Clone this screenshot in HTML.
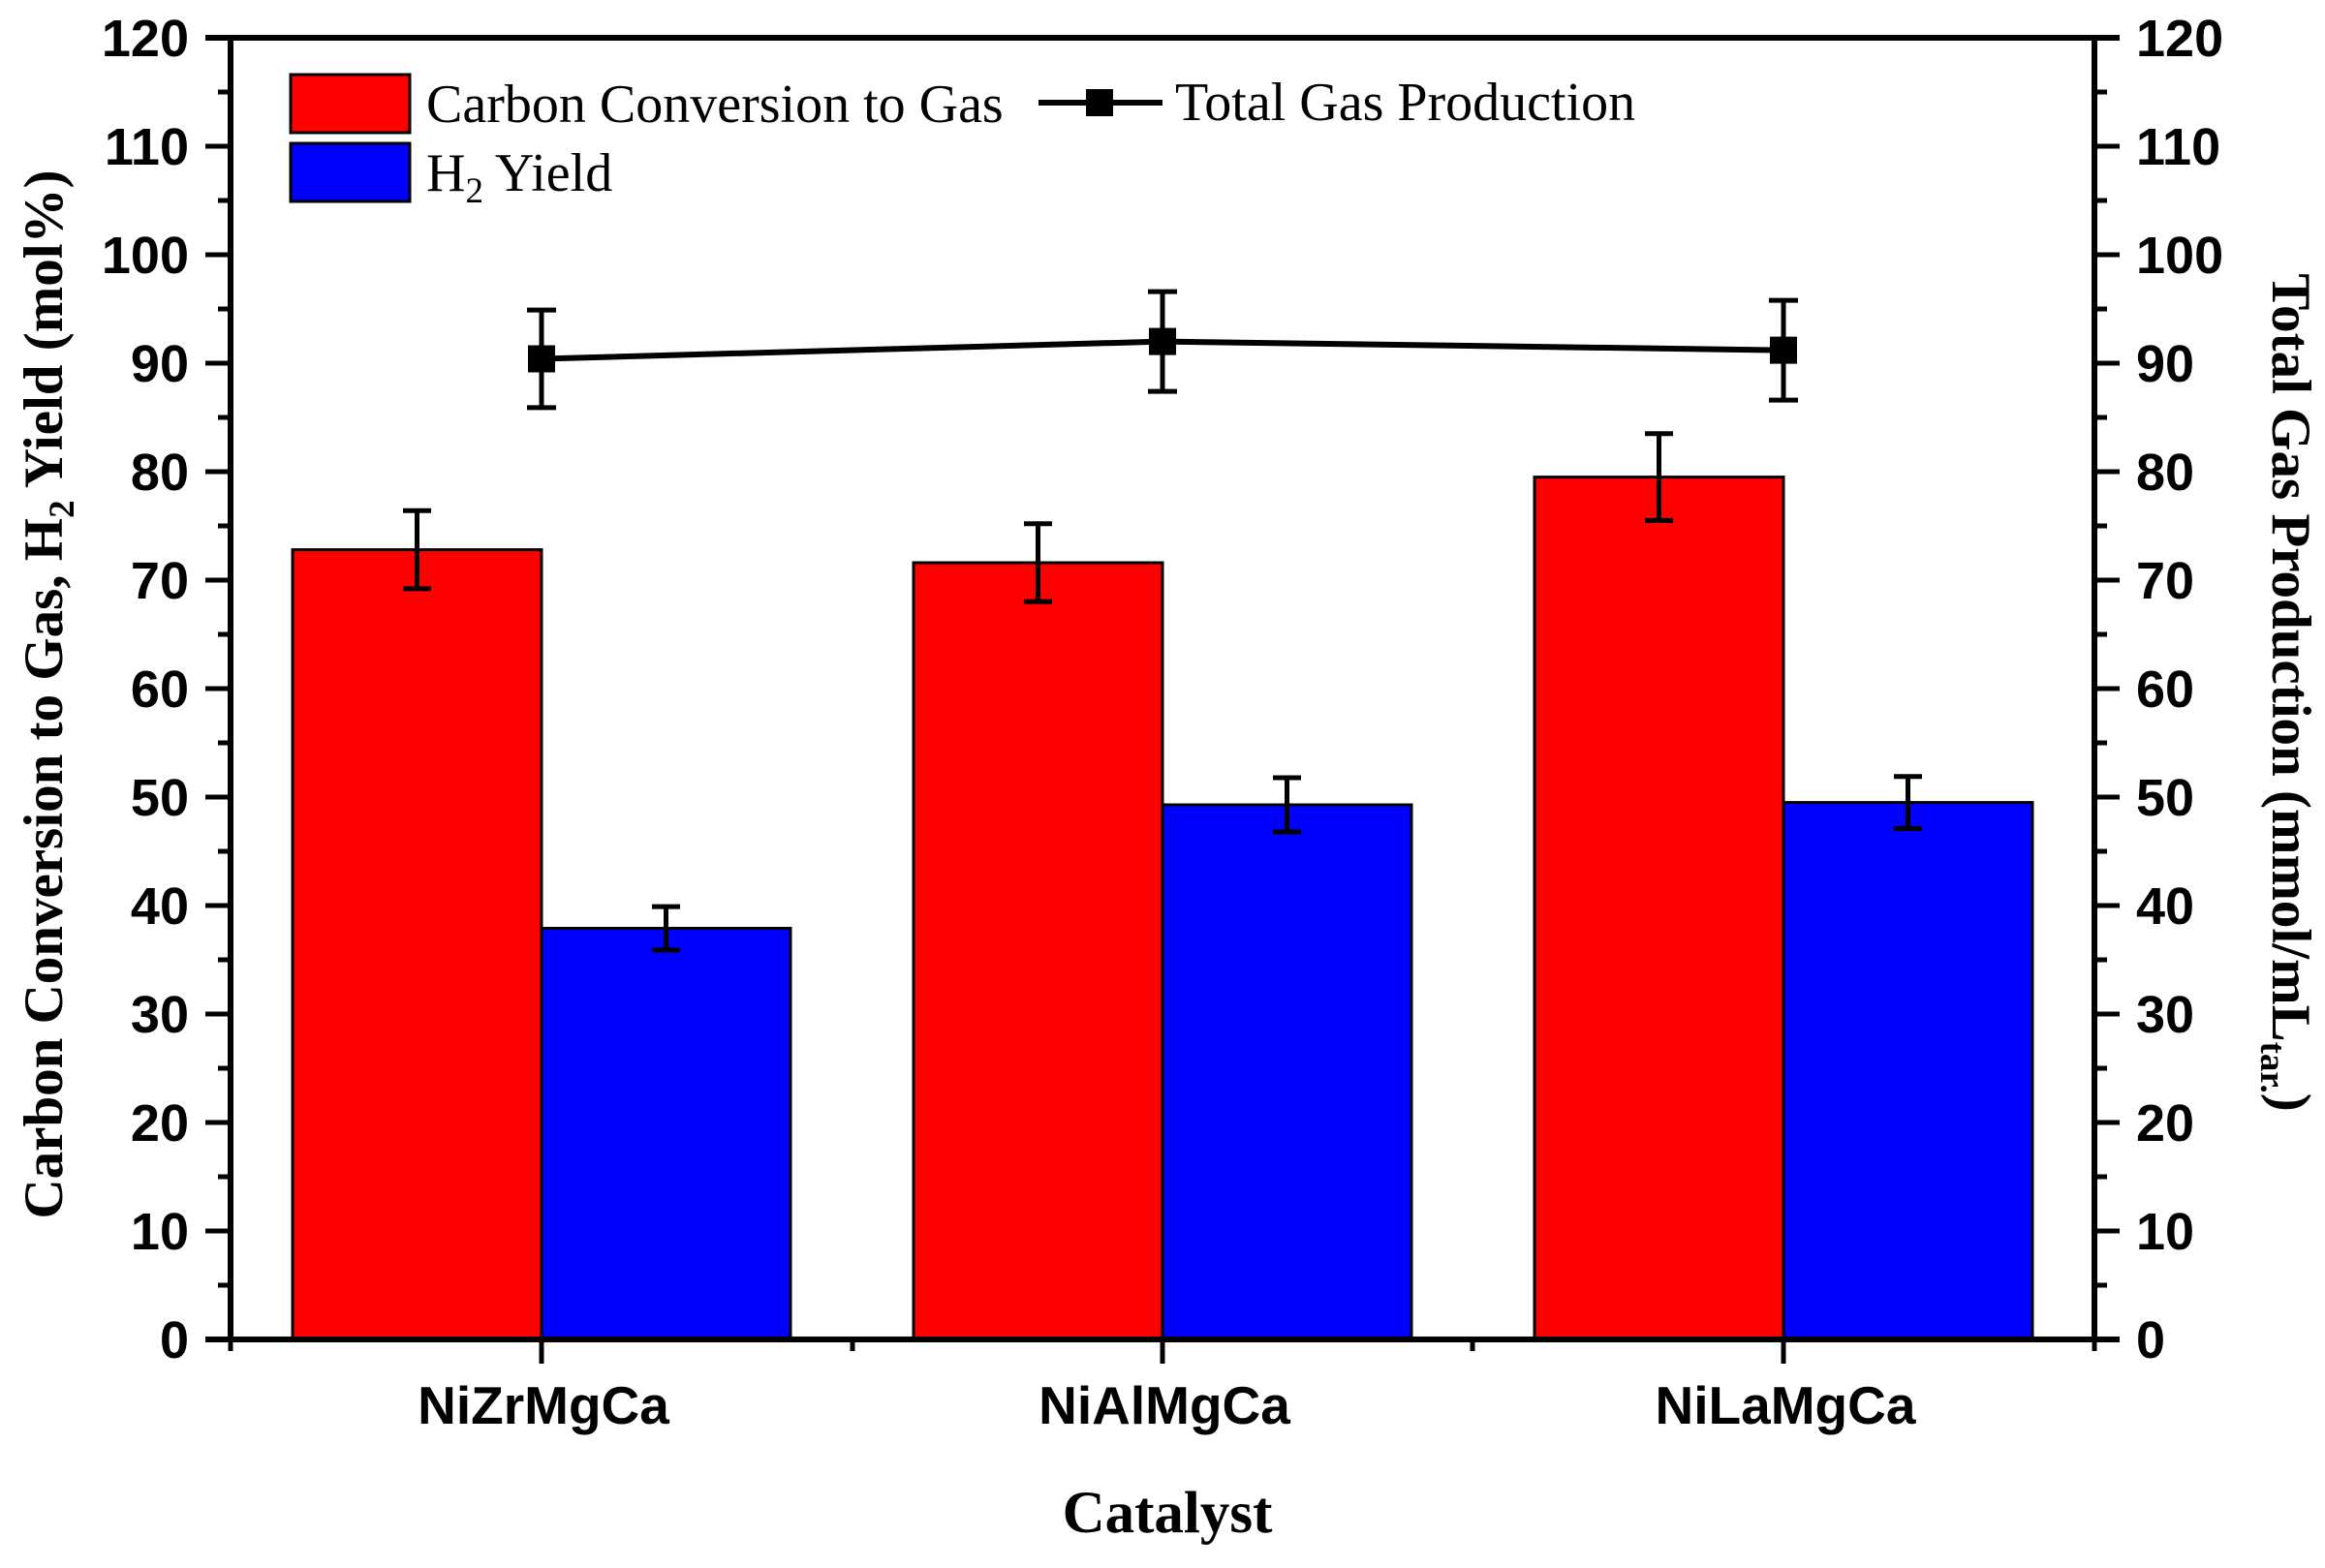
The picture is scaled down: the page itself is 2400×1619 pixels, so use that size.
<!DOCTYPE html>
<html><head><meta charset="utf-8"><style>body{margin:0;background:#fff}svg{display:block}</style></head><body>
<svg width="2400" height="1619" viewBox="0 0 2400 1619" xmlns="http://www.w3.org/2000/svg">
<rect width="2400" height="1619" fill="#fff"/>
<g stroke="#000" stroke-width="3">
<rect x="302" y="567.6" width="257" height="815.4" fill="#f00"/>
<rect x="559" y="958.5" width="257" height="424.5" fill="#00f"/>
<rect x="943" y="581" width="257" height="802" fill="#f00"/>
<rect x="1200" y="831" width="257" height="552" fill="#00f"/>
<rect x="1584" y="492.6" width="257" height="890.4" fill="#f00"/>
<rect x="1841" y="828.6" width="257" height="554.4" fill="#00f"/>
</g>
<g stroke="#000" stroke-width="5" fill="none">
<path d="M430.5 527.3V607.9M416 527.3H445M416 607.9H445"/>
<path d="M687.5 936.1V980.9M673 936.1H702M673 980.9H702"/>
<path d="M1071.5 540.7V621.3M1057 540.7H1086M1057 621.3H1086"/>
<path d="M1328.5 803V859M1314 803H1343M1314 859H1343"/>
<path d="M1712.5 447.8V537.4M1698 447.8H1727M1698 537.4H1727"/>
<path d="M1969.5 801.7V855.5M1955 801.7H1984M1955 855.5H1984"/>
<path d="M559 320.1V420.9M544 320.1H574M544 420.9H574"/>
<path d="M1200 301.1V404.1M1185 301.1H1215M1185 404.1H1215"/>
<path d="M1841 310.1V413.1M1826 310.1H1856M1826 413.1H1856"/>
</g>
<polyline points="559,370.5 1200,352.6 1841,361.6" fill="none" stroke="#000" stroke-width="6"/>
<g fill="#000">
<rect x="545" y="356.5" width="28" height="28"/>
<rect x="1186" y="338.6" width="28" height="28"/>
<rect x="1827" y="347.6" width="28" height="28"/>
</g>
<g stroke="#000" stroke-width="6" fill="none">
<path d="M238 39V1383M2162 39V1383M212 39H2188M212 1383H2188"/>
</g>
<g stroke="#000" stroke-width="5">
<path d="M212 39H238M212 151H238M212 263H238M212 375H238M212 487H238M212 599H238M212 711H238M212 823H238M212 935H238M212 1047H238M212 1159H238M212 1271H238M212 1383H238"/>
<path d="M225 95H238M225 207H238M225 319H238M225 431H238M225 543H238M225 655H238M225 767H238M225 879H238M225 991H238M225 1103H238M225 1215H238M225 1327H238"/>
<path d="M2162 39H2188M2162 151H2188M2162 263H2188M2162 375H2188M2162 487H2188M2162 599H2188M2162 711H2188M2162 823H2188M2162 935H2188M2162 1047H2188M2162 1159H2188M2162 1271H2188M2162 1383H2188"/>
<path d="M2162 95H2175M2162 207H2175M2162 319H2175M2162 431H2175M2162 543H2175M2162 655H2175M2162 767H2175M2162 879H2175M2162 991H2175M2162 1103H2175M2162 1215H2175M2162 1327H2175"/>
<path d="M559 1383V1408M1200 1383V1408M1841 1383V1408M238 1383V1395M880 1383V1395M1520 1383V1395M2162 1383V1395"/>
</g>
<g font-family="Liberation Sans, sans-serif" font-weight="bold" font-size="54" fill="#000">
<g text-anchor="end">
<text x="195" y="58">120</text><text x="195" y="170">110</text><text x="195" y="282">100</text><text x="195" y="394">90</text><text x="195" y="506">80</text><text x="195" y="618">70</text><text x="195" y="730">60</text><text x="195" y="842">50</text><text x="195" y="954">40</text><text x="195" y="1066">30</text><text x="195" y="1178">20</text><text x="195" y="1290">10</text><text x="195" y="1402">0</text>
</g>
<g text-anchor="start">
<text x="2205" y="58">120</text><text x="2205" y="170">110</text><text x="2205" y="282">100</text><text x="2205" y="394">90</text><text x="2205" y="506">80</text><text x="2205" y="618">70</text><text x="2205" y="730">60</text><text x="2205" y="842">50</text><text x="2205" y="954">40</text><text x="2205" y="1066">30</text><text x="2205" y="1178">20</text><text x="2205" y="1290">10</text><text x="2205" y="1402">0</text>
</g>
<g text-anchor="middle" font-size="55">
<text x="561" y="1470">NiZrMgCa</text><text x="1202" y="1470">NiAlMgCa</text><text x="1843" y="1470">NiLaMgCa</text>
</g>
</g>
<g font-family="Liberation Serif, serif" fill="#000">
<text x="1205" y="1582" text-anchor="middle" font-weight="bold" font-size="61">Catalyst</text>
<text transform="translate(64,717) rotate(-90)" text-anchor="middle" font-weight="bold" font-size="57">Carbon Conversion to Gas, H<tspan font-size="37" dy="12">2</tspan><tspan dy="-12"> Yield (mol%)</tspan></text>
<text transform="translate(2346,715) rotate(90)" text-anchor="middle" font-weight="bold" font-size="57">Total Gas Production (mmol/mL<tspan font-size="37" dy="12">tar.</tspan><tspan dy="-12">)</tspan></text>
<g font-size="56">
<text x="440" y="126">Carbon Conversion to Gas</text>
<text x="440" y="197">H<tspan font-size="37" dy="12">2</tspan><tspan dy="-12"> Yield</tspan></text>
<text x="1213" y="124">Total Gas Production</text>
</g>
</g>
<rect x="300" y="77" width="123" height="60" fill="#f00" stroke="#000" stroke-width="3"/>
<rect x="300" y="148" width="123" height="60" fill="#00f" stroke="#000" stroke-width="3"/>
<path d="M1072 106H1200" stroke="#000" stroke-width="6"/>
<rect x="1121" y="92" width="28" height="28" fill="#000"/>
</svg>
</body></html>
